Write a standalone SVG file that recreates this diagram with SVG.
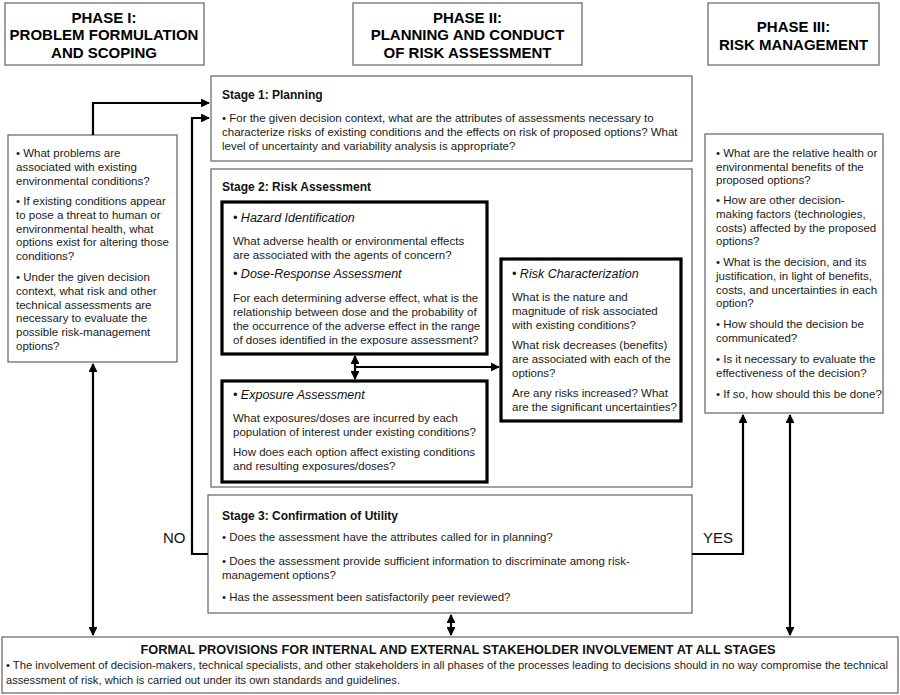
<svg xmlns="http://www.w3.org/2000/svg" width="900" height="695" viewBox="0 0 900 695">
<defs>
<marker id="ah" viewBox="0 0 10 10" refX="9" refY="5" markerWidth="4.4" markerHeight="4" orient="auto-start-reverse" markerUnits="strokeWidth">
<path d="M0,0 L10,5 L0,10 z" fill="#000"/>
</marker>
<style>
.box{fill:#fff;stroke:#6e6e6e;stroke-width:1.3}
.thick{fill:#fff;stroke:#000;stroke-width:3.2}
.ph{font-family:"Liberation Sans",Arial,sans-serif;font-weight:bold;font-size:15px;fill:#000;text-anchor:middle}
.t{font-family:"Liberation Sans",Arial,sans-serif;font-size:11.5px;fill:#1a1a1a}
.tn{font-family:"Liberation Sans",Arial,sans-serif;font-size:10.4px;fill:#1a1a1a}
.st{font-family:"Liberation Sans",Arial,sans-serif;font-size:12px;font-weight:bold;fill:#111}
.it{font-family:"Liberation Sans",Arial,sans-serif;font-size:12.5px;font-style:italic;fill:#111}
.lab{font-family:"Liberation Sans",Arial,sans-serif;font-size:15px;fill:#111}
.c{fill:none;stroke:#000;stroke-width:2.2}
</style>
</defs>

<g id="phase1-header">
<rect class="box" x="5" y="3" width="199" height="62"/>
<text class="ph" x="104" y="22.5">PHASE I:</text>
<text class="ph" x="104" y="40">PROBLEM FORMULATION</text>
<text class="ph" x="104" y="57.5">AND SCOPING</text>
</g>
<g id="phase2-header">
<rect class="box" x="353" y="3" width="229" height="62"/>
<text class="ph" x="467.5" y="22.5">PHASE II:</text>
<text class="ph" x="467.5" y="40">PLANNING AND CONDUCT</text>
<text class="ph" x="467.5" y="57.5">OF RISK ASSESSMENT</text>
</g>
<g id="phase3-header">
<rect class="box" x="708" y="3" width="171" height="62"/>
<text class="ph" x="793.5" y="31.5">PHASE III:</text>
<text class="ph" x="793.5" y="49.5">RISK MANAGEMENT</text>
</g>

<g id="phase1-questions">
<rect class="box" x="8" y="135" width="169" height="227"/>
<text class="t" x="16" y="157">• What problems are</text>
<text class="t" x="16" y="170.8">associated with existing</text>
<text class="t" x="16" y="184.6">environmental conditions?</text>
<text class="t" x="16" y="205">• If existing conditions appear</text>
<text class="t" x="16" y="218.8">to pose a threat to human or</text>
<text class="t" x="16" y="232.6">environmental health, what</text>
<text class="t" x="16" y="246.4">options exist for altering those</text>
<text class="t" x="16" y="260.2">conditions?</text>
<text class="t" x="16" y="281">• Under the given decision</text>
<text class="t" x="16" y="294.8">context, what risk and other</text>
<text class="t" x="16" y="308.6">technical assessments are</text>
<text class="t" x="16" y="322.4">necessary to evaluate the</text>
<text class="t" x="16" y="336.2">possible risk-management</text>
<text class="t" x="16" y="350">options?</text>
</g>

<g id="stage1">
<rect class="box" x="211" y="76" width="481" height="85"/>
<text class="st" x="222" y="99">Stage 1: Planning</text>
<text class="t" x="222" y="122">• For the given decision context, what are the attributes of assessments necessary to</text>
<text class="t" x="222" y="136">characterize risks of existing conditions and the effects on risk of proposed options? What</text>
<text class="t" x="222" y="150">level of uncertainty and variability analysis is appropriate?</text>
</g>

<g id="stage2">
<rect class="box" x="211" y="169" width="481" height="318"/>
<text class="st" x="222" y="191">Stage 2: Risk Assessment</text>
</g>

<g id="hazard-dose">
<rect class="thick" x="222" y="202" width="265" height="152"/>
<text class="it" x="233" y="222">• Hazard Identification</text>
<text class="t" x="233" y="245">What adverse health or environmental effects</text>
<text class="t" x="233" y="259">are associated with the agents of concern?</text>
<text class="it" x="233" y="278">• Dose-Response Assessment</text>
<text class="t" x="233" y="302">For each determining adverse effect, what is the</text>
<text class="t" x="233" y="316">relationship between dose and the probability of</text>
<text class="t" x="233" y="330">the occurrence of the adverse effect in the range</text>
<text class="t" x="233" y="344">of doses identified in the exposure assessment?</text>
</g>

<g id="risk-characterization">
<rect class="thick" x="501" y="259" width="180" height="162"/>
<text class="it" x="512" y="278">• Risk Characterization</text>
<text class="t" x="512" y="301">What is the nature and</text>
<text class="t" x="512" y="315">magnitude of risk associated</text>
<text class="t" x="512" y="329">with existing conditions?</text>
<text class="t" x="512" y="349">What risk decreases (benefits)</text>
<text class="t" x="512" y="363">are associated with each of the</text>
<text class="t" x="512" y="377">options?</text>
<text class="t" x="512" y="397">Are any risks increased? What</text>
<text class="t" x="512" y="411">are the significant uncertainties?</text>
</g>

<g id="exposure">
<rect class="thick" x="222" y="381" width="265" height="101"/>
<text class="it" x="233" y="399">• Exposure Assessment</text>
<text class="t" x="233" y="422">What exposures/doses are incurred by each</text>
<text class="t" x="233" y="436">population of interest under existing conditions?</text>
<text class="t" x="233" y="456">How does each option affect existing conditions</text>
<text class="t" x="233" y="470">and resulting exposures/doses?</text>
</g>

<g id="stage3">
<rect class="box" x="208" y="495" width="484" height="118"/>
<text class="st" x="222" y="520">Stage 3: Confirmation of Utility</text>
<text class="t" x="222" y="541">• Does the assessment have the attributes called for in planning?</text>
<text class="t" x="222" y="565">• Does the assessment provide sufficient information to discriminate among risk-</text>
<text class="t" x="222" y="579">management options?</text>
<text class="t" x="222" y="601">• Has the assessment been satisfactorily peer reviewed?</text>
</g>

<g id="phase3-questions">
<rect class="box" x="705" y="134" width="178" height="279"/>
<text class="t" x="716" y="157">• What are the relative health or</text>
<text class="t" x="716" y="171">environmental benefits of the</text>
<text class="t" x="716" y="184">proposed options?</text>
<text class="t" x="716" y="204">• How are other decision-</text>
<text class="t" x="716" y="218">making factors (technologies,</text>
<text class="t" x="716" y="232">costs) affected by the proposed</text>
<text class="t" x="716" y="245">options?</text>
<text class="t" x="716" y="266">• What is the decision, and its</text>
<text class="t" x="716" y="280">justification, in light of benefits,</text>
<text class="t" x="716" y="294">costs, and uncertainties in each</text>
<text class="t" x="716" y="307">option?</text>
<text class="t" x="716" y="328">• How should the decision be</text>
<text class="t" x="716" y="342">communicated?</text>
<text class="t" x="716" y="363">• Is it necessary to evaluate the</text>
<text class="t" x="716" y="377">effectiveness of the decision?</text>
<text class="t" x="716" y="398">• If so, how should this be done?</text>
</g>

<g id="stakeholder">
<rect class="box" x="2" y="637" width="896" height="56"/>
<text class="st" x="458" y="654" text-anchor="middle" textLength="635" lengthAdjust="spacingAndGlyphs">FORMAL PROVISIONS FOR INTERNAL AND EXTERNAL STAKEHOLDER INVOLVEMENT AT ALL STAGES</text>
<text class="tn" x="6" y="669" textLength="882" lengthAdjust="spacingAndGlyphs">• The involvement of decision-makers, technical specialists, and other stakeholders in all phases of the processes leading to decisions should in no way compromise the technical</text>
<text class="tn" x="6" y="684" textLength="394" lengthAdjust="spacingAndGlyphs">assessment of risk, which is carried out under its own standards and guidelines.</text>
</g>

<g id="connectors">
<polyline class="c" points="93,135 93,103 209,103" marker-end="url(#ah)"/>
<polyline class="c" points="208,554 192,554 192,118 209,118" marker-end="url(#ah)"/>
<line class="c" x1="93" y1="364" x2="93" y2="635" marker-start="url(#ah)" marker-end="url(#ah)"/>
<line class="c" x1="355" y1="356" x2="355" y2="379" marker-start="url(#ah)" marker-end="url(#ah)"/>
<line class="c" x1="355" y1="367" x2="499" y2="367" marker-end="url(#ah)"/>
<line class="c" x1="451" y1="615" x2="451" y2="635" marker-start="url(#ah)" marker-end="url(#ah)"/>
<polyline class="c" points="692,554 743,554 743,415" marker-end="url(#ah)"/>
<line class="c" x1="790" y1="415" x2="790" y2="635" marker-start="url(#ah)" marker-end="url(#ah)"/>
<text class="lab" x="163" y="543">NO</text>
<text class="lab" x="703" y="543">YES</text>
</g>
</svg>
